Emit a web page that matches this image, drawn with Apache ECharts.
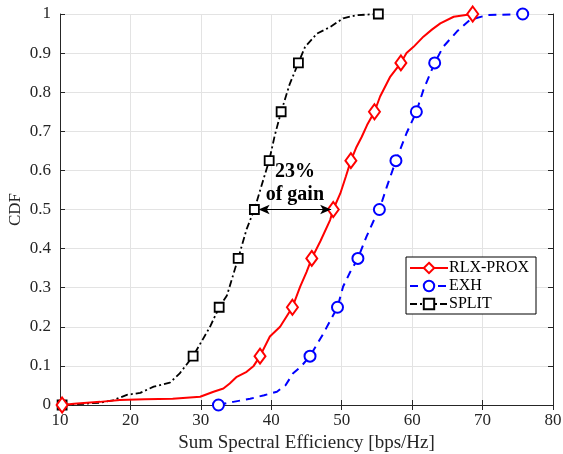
<!DOCTYPE html>
<html>
<head>
<meta charset="utf-8">
<script src="https://cdn.jsdelivr.net/npm/echarts@6/dist/echarts.min.js"></script>
<style>
  html, body { margin: 0; padding: 0; background: #fff; }
  #chart { width: 563px; height: 454px; }
</style>
</head>
<body>
<div id="chart"></div>
<script>
// curve points [x, cdf]
const rlxCurve = [
  [12, 0.003], [15.7, 0.008], [18.5, 0.013], [22, 0.015], [26, 0.016], [29.9, 0.021],
  [31.8, 0.034], [33.2, 0.042], [34.1, 0.055], [35.1, 0.072], [36.5, 0.085], [37.5, 0.1],
  [39.8, 0.175], [41.25, 0.2], [44.1, 0.303], [45.0, 0.34], [47.0, 0.42], [48.35, 0.473],
  [49.8, 0.541], [50.6, 0.585], [52.1, 0.66], [52.85, 0.686], [53.6, 0.716], [55.45, 0.789],
  [56.9, 0.84], [59.2, 0.9], [60.2, 0.916], [61.6, 0.942], [62.8, 0.96], [64.0, 0.976], [65.9, 0.993]
];
const rlxMarkers = [
  [10.3, 0], [38.4, 0.125], [43.0, 0.25], [45.75, 0.375], [48.8, 0.5],
  [51.3, 0.625], [54.65, 0.75], [58.4, 0.875], [68.6, 1]
];
const exhCurve = [
  [34.6, 0.008], [37, 0.016], [39, 0.025], [40.8, 0.034], [42, 0.05], [43.1, 0.081], [44.3, 0.1],
  [47.4, 0.183], [50.2, 0.303], [51.2, 0.34], [53.5, 0.43], [54.5, 0.47], [56.4, 0.558],
  [59.2, 0.695], [61.6, 0.806], [64.4, 0.916], [66.35, 0.955], [68.2, 0.985], [70.6, 0.997]
];
const exhMarkers = [
  [32.5, 0], [45.5, 0.125], [49.4, 0.25], [52.3, 0.375], [55.35, 0.5],
  [57.7, 0.625], [60.6, 0.75], [63.2, 0.875], [75.7, 1]
];
const splitCurve = [
  [12.5, 0.002], [15.7, 0.006], [17.5, 0.012], [19.5, 0.026], [21.4, 0.031], [23.3, 0.047],
  [25.6, 0.057], [27.0, 0.081], [31.3, 0.2], [33.7, 0.28], [36.5, 0.45], [38.6, 0.56],
  [40.5, 0.69], [42.6, 0.82], [44.8, 0.916], [46.5, 0.95], [48.4, 0.967], [50.2, 0.989], [52.1, 0.997]
];
const splitMarkers = [
  [10.3, 0], [28.9, 0.125], [32.6, 0.25], [35.3, 0.375], [37.6, 0.5],
  [39.7, 0.625], [41.4, 0.75], [43.85, 0.875], [55.2, 1]
];
const seriesNames = ["RLX-PROX", "EXH", "SPLIT"];
const gainArrow = [[38.2, 0.5], [48.5, 0.5]];
const gainText = "23%\nof gain";

const font = "Liberation Serif";

// merge plain curve points with marker points (only markers get a symbol)
function build(curve, markers) {
  const pts = curve.map((p) => ({ value: p, symbol: "none" }))
    .concat(markers.map((p) => ({ value: p })));
  pts.sort((a, b) => a.value[0] - b.value[0] || a.value[1] - b.value[1]);
  return pts;
}

const chart = echarts.init(document.getElementById("chart"));

const axisLine = { lineStyle: { color: "#262626", width: 1 } };
const axisTick = { inside: true, length: 5, lineStyle: { color: "#262626" } };

chart.setOption({
  animation: false,
  backgroundColor: "#fff",
  grid: { left: 60, right: 10, top: 14, bottom: 49, outerBoundsMode: "none", containLabel: false },
  legend: {
    orient: "vertical",
    left: 406,
    top: 257,
    padding: [3, 7, 2, 3],
    itemGap: 2,
    itemWidth: 38,
    itemHeight: 13,
    borderColor: "#000",
    borderWidth: 1,
    borderRadius: 0,
    backgroundColor: "#fff",
    textStyle: { fontFamily: font, fontSize: 16, color: "#000", padding: [0, 0, 0, -4] },
    data: seriesNames,
  },
  xAxis: [
    {
      type: "value",
      min: 10,
      max: 80,
      interval: 10,
      name: "Sum Spectral Efficiency [bps/Hz]",
      nameLocation: "middle",
      nameGap: 25,
      nameTextStyle: { fontFamily: font, fontSize: 19, color: "#262626" },
      axisLine,
      axisTick,
      axisLabel: { fontFamily: font, fontSize: 17, color: "#262626", margin: 7 },
      splitLine: { show: true, lineStyle: { color: "#e3e3e3" } },
    },
    {
      type: "value",
      position: "top",
      min: 10,
      max: 80,
      interval: 10,
      axisLine,
      axisTick,
      axisLabel: { show: false },
      splitLine: { show: false },
    },
  ],
  yAxis: [
    {
      type: "value",
      min: 0,
      max: 1,
      interval: 0.1,
      name: "CDF",
      nameLocation: "middle",
      nameGap: 36,
      nameMoveOverlap: false,
      nameTextStyle: { fontFamily: font, fontSize: 17, color: "#262626" },
      axisLine,
      axisTick,
      axisLabel: { fontFamily: font, fontSize: 17, color: "#262626", margin: 9 },
      splitLine: { show: true, lineStyle: { color: "#e3e3e3" } },
    },
    {
      type: "value",
      position: "right",
      min: 0,
      max: 1,
      interval: 0.1,
      axisLine,
      axisTick,
      axisLabel: { show: false },
      splitLine: { show: false },
    },
  ],
  series: [
    {
      name: seriesNames[0],
      type: "line",
      data: build(rlxCurve, rlxMarkers),
      showSymbol: true,
      showAllSymbol: true,
      symbol: "diamond",
      symbolSize: [11, 15],
      lineStyle: { color: "#ff0000", width: 2, type: "solid" },
      itemStyle: { color: "#fff", borderColor: "#ff0000", borderWidth: 2 },
      z: 4,
      markLine: {
        silent: true,
        symbol: ["arrow", "arrow"],
        symbolSize: [7, 11],
        lineStyle: { color: "#000", width: 1, type: "solid" },
        label: {
          show: true,
          position: "insideMiddleTop",
          formatter: gainText,
          fontFamily: font,
          fontSize: 20,
          fontWeight: "bold",
          color: "#000",
          lineHeight: 23,
          distance: 3,
        },
        data: [[{ coord: gainArrow[0] }, { coord: gainArrow[1] }]],
      },
    },
    {
      name: seriesNames[1],
      type: "line",
      data: build(exhCurve, exhMarkers),
      showSymbol: true,
      showAllSymbol: true,
      symbol: "circle",
      symbolSize: 11,
      lineStyle: { color: "#0000ff", width: 2, type: [8, 6] },
      itemStyle: { color: "#fff", borderColor: "#0000ff", borderWidth: 2 },
      z: 3,
    },
    {
      name: seriesNames[2],
      type: "line",
      data: build(splitCurve, splitMarkers),
      showSymbol: true,
      showAllSymbol: true,
      symbol: "rect",
      symbolSize: 9,
      lineStyle: { color: "#000", width: 1.8, type: [7, 3, 2, 3] },
      itemStyle: { color: "#fff", borderColor: "#000", borderWidth: 1.8 },
      z: 3,
    },
  ],
});
</script>
</body>
</html>
